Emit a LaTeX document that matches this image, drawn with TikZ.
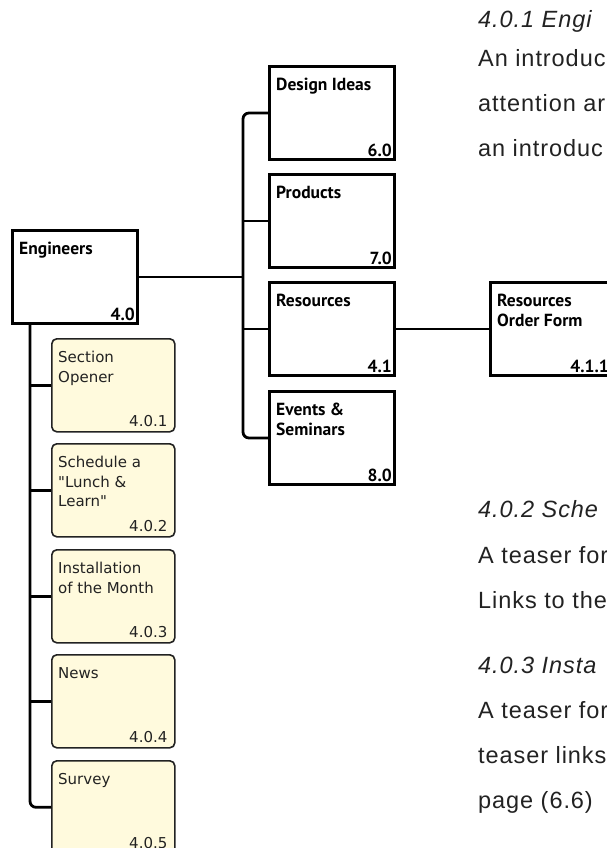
\documentclass[tikz,border=0pt]{standalone}
\usepackage{fontspec}
\setmainfont{Liberation Sans}
\newfontfamily\notefont{DejaVu Sans}
\newfontfamily\boxfont{PT Sans}
\newfontfamily\pagefont[LetterSpace=4]{Liberation Sans}
\usetikzlibrary{positioning}
\definecolor{notefill}{RGB}{255,250,221}
\definecolor{ink}{RGB}{34,34,34}
\tikzset{
  box/.style={draw=black, line width=3pt, minimum width=125pt, minimum height=93pt,
    inner sep=0pt, anchor=north west},
  note/.style={draw=ink, line width=1.6pt, fill=notefill, rounded corners=5pt,
    minimum width=123pt, minimum height=93pt, inner sep=0pt, anchor=north west},
  boxtitle/.style={anchor=north west, inner sep=0pt, xshift=8pt, yshift=-12.5pt, align=left,
    font=\boxfont\fontsize{17.5}{20}\selectfont\bfseries},
  boxnum/.style={anchor=south east, inner sep=0pt, xshift=-4pt, yshift=4pt,
    font=\boxfont\fontsize{17.5}{20}\selectfont\bfseries},
  notetitle/.style={anchor=north west, inner sep=0pt, xshift=7pt, yshift=-13pt, align=left,
    text=ink, font=\notefont\fontsize{15}{19.5}\selectfont},
  notenum/.style={anchor=south east, inner sep=0pt, xshift=-8pt, yshift=6pt,
    text=ink, font=\notefont\fontsize{15}{19.5}\selectfont},
  link/.style={draw=black, line width=2.8pt},
  head/.style={anchor=base west, inner sep=0pt, text=ink, font=\pagefont\fontsize{23.5}{30}\selectfont\itshape},
  body/.style={anchor=base west, inner sep=0pt, text=ink, font=\pagefont\fontsize{23.5}{30}\selectfont}
}
\begin{document}
\begin{tikzpicture}[x=1pt, y=-1pt]
  \useasboundingbox (0,0) rectangle (607,848);
  \clip (0,0) rectangle (607,848);

  % main boxes
  \node[box, label={[boxtitle]north west:Engineers}, label={[boxnum]south east:4.0}] (engineers) at (11,229) {};
  \node[box, label={[boxtitle]north west:Design Ideas}, label={[boxnum]south east:6.0}] (design) at (268,65) {};
  \node[box, label={[boxtitle]north west:Products}, label={[boxnum]south east:7.0}] (products) at (268,173) {};
  \node[box, label={[boxtitle]north west:Resources}, label={[boxnum]south east:4.1}] (resources) at (268,281) {};
  \node[box, label={[boxtitle]north west:Events \&\\Seminars}, label={[boxnum]south east:8.0}] (events) at (268,390) {};
  \node[box, minimum width=121pt, label={[boxtitle]north west:Resources\\Order Form}, label={[boxnum]south east:4.1.1}] (orderform) at (489,281) {};

  % section pages
  \node[note, label={[notetitle]north west:Section\\Opener}, label={[notenum]south east:4.0.1}] (opener) at (51,338) {};
  \node[note, label={[notetitle]north west:Schedule a\\"Lunch \&\\Learn"}, label={[notenum]south east:4.0.2}] (lunch) at (51,443) {};
  \node[note, label={[notetitle]north west:Installation\\of the Month}, label={[notenum]south east:4.0.3}] (install) at (51,549) {};
  \node[note, label={[notetitle]north west:News}, label={[notenum]south east:4.0.4}] (news) at (51,654) {};
  \node[note, label={[notetitle]north west:Survey}, label={[notenum]south east:4.0.5}] (survey) at (51,760) {};

  % connectors
  \coordinate (bus) at (243,0);
  \coordinate (trunk) at (30,0);
  \draw[link, rounded corners=6pt] (design.west) -| (bus |- events.west) -- (events.west);
  \foreach \n in {products,resources}
    \draw[link] (\n.west) -- (\n.west -| bus);
  \draw[link] (engineers.east) -- (engineers.east -| bus);
  \draw[link] (resources.east) -- (orderform.west);
  \draw[link, rounded corners=6pt] (engineers.south -| trunk) |- (survey.west);
  \foreach \n in {opener,lunch,install,news}
    \draw[link] (\n.west) -- (\n.west -| trunk);

  % notes
  \node[head] (head1) at (478,28) {4.0.1 Engi};
  \foreach \t [count=\i] in {An introduc,attention ar,an introduc}
    \node[body] (intro\i) at (478,{67+45*(\i-1)}) {\t};
  \node[head] (head2) at (478,517) {4.0.2 Sche};
  \foreach \t [count=\i] in {A teaser for,Links to the}
    \node[body] (lunchtext\i) at (478,{563+45*(\i-1)}) {\t};
  \node[head] (head3) at (478,673) {4.0.3 Insta};
  \foreach \t [count=\i] in {A teaser for,teaser links,page (6.6)}
    \node[body] (installtext\i) at (478,{718+45*(\i-1)}) {\t};
\end{tikzpicture}
\end{document}
